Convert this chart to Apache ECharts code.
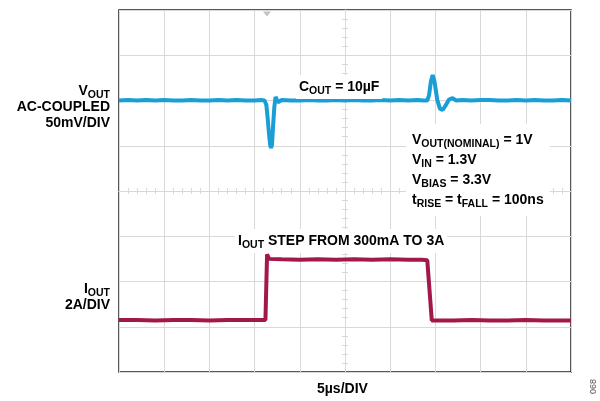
<!DOCTYPE html>
<html>
<head>
<meta charset="utf-8">
<script src="https://cdn.jsdelivr.net/npm/echarts@6/dist/echarts.min.js"></script>
<style>html,body{margin:0;padding:0;background:#fff;}#c{width:600px;height:401px;}</style>
</head>
<body>
<div id="c"></div>
<script>
// Time in µs relative to screen centre (5 µs/div), amplitude in divisions from centre
const voutTime = [-25,-24,-23,-22,-21,-20,-19,-18,-17,-16,-15,-14,-13,-12,-11,-10,-9.3,-8.9,-8.7,-8.55,-8.4,-8.28,-8.18,-8.08,-7.95,-7.82,-7.68,-7.55,-7.42,-7.25,-7,-6,-5,-4,-3,-2,-1,0,1,2,3,4,5,6,7,8,8.7,9.1,9.3,9.5,9.7,9.9,10.2,10.5,10.8,11.1,11.5,11.9,12.3,13,14,15,16,17,18,19,20,21,22,23,24,25];
const voutDiv  = [2.0,2.01,2.0,2.01,2.0,2.01,2.0,2.0,2.01,2.0,2.0,2.01,2.0,2.01,2.0,2.0,2.01,2.0,1.9,1.6,1.25,1.02,0.95,1.02,1.45,1.85,2.08,2.1,1.96,2.0,2.01,2.0,2.0,2.01,2.0,2.0,2.01,2.0,2.01,2.0,2.0,2.01,2.0,2.01,2.0,2.01,2.0,2.0,2.12,2.42,2.56,2.42,2.02,1.82,1.79,1.88,2.02,2.05,2.0,2.01,2.0,2.01,2.01,2.0,2.0,2.01,2.0,2.01,2.0,2.0,2.01,2.0];
const ioutTime = [-25,-23,-21,-19,-17,-15,-13,-11,-9.5,-8.8,-8.62,-8.52,-8.4,-8.2,-7,-5,-3,-1,1,3,5,7,8.5,9.1,9.6,10,12,14,16,18,20,22,24,25];
const ioutDiv  = [-2.85,-2.85,-2.86,-2.85,-2.85,-2.86,-2.85,-2.85,-2.85,-2.85,-1.4,-1.38,-1.5,-1.52,-1.51,-1.52,-1.51,-1.52,-1.51,-1.52,-1.51,-1.52,-1.52,-1.53,-2.86,-2.86,-2.86,-2.85,-2.86,-2.86,-2.85,-2.86,-2.86,-2.86];
const triggerTime = [-8.63];
const xTicks = { min: -25, max: 25, step: 5 };
const yTicks = { min: -4, max: 4, step: 1 };

const voutData = voutTime.map((t, i) => [t, voutDiv[i]]);
const ioutData = ioutTime.map((t, i) => [t, ioutDiv[i]]);

const FONT = 'Liberation Sans, Arial, sans-serif';
const TXT = '#231f20';
const rich = {
  m: { fontFamily: FONT, fontWeight: 'bold', fontSize: 14, color: TXT, lineHeight: 20 },
  s: { fontFamily: FONT, fontWeight: 'bold', fontSize: 10.5, color: TXT, lineHeight: 10, verticalAlign: 'bottom' }
};
const gridC = '#d9d9d9';

function axisCommon(pos, isX) {
  return {
    type: 'value',
    position: pos,
    min: isX ? xTicks.min : yTicks.min,
    max: isX ? xTicks.max : yTicks.max,
    interval: isX ? xTicks.step : yTicks.step,
    axisLine: { show: true, onZero: true, lineStyle: { color: gridC, width: 1 } },
    axisTick: { show: true, length: 3, lineStyle: { color: gridC } },
    minorTick: { show: true, splitNumber: 5, length: 3, lineStyle: { color: gridC } },
    axisLabel: { show: false },
    splitLine: { show: false }
  };
}
const xMain = axisCommon('bottom', true);
xMain.splitLine = { show: true, lineStyle: { color: gridC, width: 1 } };
const yMain = axisCommon('left', false);
yMain.splitLine = { show: true, lineStyle: { color: gridC, width: 1 } };

const chart = echarts.init(document.getElementById('c'), null, { renderer: 'canvas' });
chart.setOption({
  animation: false,
  backgroundColor: '#fff',
  grid: { left: 119, top: 10, width: 452, height: 362, show: true, borderColor: '#231f20', borderWidth: 1.5, backgroundColor: 'transparent' },
  xAxis: [xMain, axisCommon('top', true)],
  yAxis: [yMain, axisCommon('right', false)],
  series: [
    { type: 'line', data: voutData, showSymbol: false, lineStyle: { color: '#1a9ed6', width: 4 }, z: 3 },
    { type: 'line', data: ioutData, showSymbol: false, lineStyle: { color: '#a3184b', width: 4 }, z: 3 },
    { type: 'scatter', data: triggerTime.map(t => [t, yTicks.max]), symbol: 'triangle', symbolRotate: 180, symbolSize: [8, 5], symbolOffset: [0, 4], itemStyle: { color: '#b3b3b3' }, z: 2 }
  ],
  graphic: [
    { type: 'text', right: 490, top: 84, z: 10, style: { text: '{m|V}{s|OUT}', rich: rich, align: 'right' } },
    { type: 'text', right: 490, top: 100, z: 10, style: { text: '{m|AC-COUPLED}', rich: rich } },
    { type: 'text', right: 490, top: 116, z: 10, style: { text: '{m|50mV/DIV}', rich: rich } },
    { type: 'text', right: 490, top: 282, z: 10, style: { text: '{m|I}{s|OUT}', rich: rich } },
    { type: 'text', right: 490, top: 298, z: 10, style: { text: '{m|2A/DIV}', rich: rich } },
    { type: 'text', left: 296, top: 75, z: 10, style: { text: '{m|C}{s|OUT}{m| = 10µF}', rich: rich, backgroundColor: '#fff', padding: [2, 3, 2, 3] } },
    { type: 'text', left: 406, top: 124, z: 10, style: { text: '{m|V}{s|OUT(NOMINAL)}{m| = 1V}\n{m|V}{s|IN}{m| = 1.3V}\n{m|V}{s|BIAS}{m| = 3.3V}\n{m|t}{s|RISE}{m| = t}{s|FALL}{m| = 100ns}', rich: rich, backgroundColor: '#fff', padding: [6, 6, 6, 6] } },
    { type: 'text', left: 235, top: 229, z: 10, style: { text: '{m|I}{s|OUT}{m| STEP FROM 300mA TO 3A}', rich: rich, backgroundColor: '#fff', padding: [2, 3, 2, 3] } },
    { type: 'text', left: 317, top: 382, z: 10, style: { text: '{m|5µs/DIV}', rich: rich } },
    { type: 'text', x: 589, y: 394, rotation: Math.PI / 2, z: 10, style: { text: '068', fontFamily: FONT, fontSize: 9, fill: '#555' } }
  ]
});
</script>
</body>
</html>
